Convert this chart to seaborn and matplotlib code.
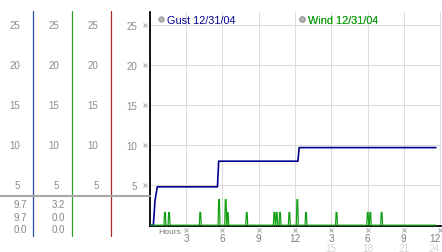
import matplotlib
matplotlib.use("Agg")
import matplotlib.pyplot as plt
from matplotlib.lines import Line2D
import seaborn as sns
import pandas as pd

# ---------------- data ----------------
gust_hours = [0.0, 0.30, 0.44, 0.63, 5.60, 5.70, 12.25, 12.35, 23.65]
gust_values = [0.0, 0.0, 3.1, 4.8, 4.8, 8.0, 8.0, 9.7, 9.7]
wind_spike_hours = [1.26, 1.60, 4.18, 5.73, 6.28, 6.45, 8.02, 10.30, 10.50,
                    10.77, 11.54, 12.20, 12.92, 15.44, 18.02, 18.23, 19.17]
wind_spike_values = [1.6, 1.6, 1.6, 3.2, 3.2, 1.6, 1.6, 1.6, 1.6,
                     1.6, 1.6, 3.2, 1.6, 1.6, 1.6, 1.6, 1.6]
wind_span = [0.0, 23.65]
y_ticks = [5, 10, 15, 20, 25]
x_ticks = [3, 6, 9, 12, 15, 18, 21, 24]
x_tick_labels = ["3", "6", "9", "12", "3", "6", "9", "12"]
x_day2_ticks = [15, 18, 21, 24]
x_day2_labels = ["15", "18", "21", "24"]
gust_stats = ["9.7", "9.7", "0.0"]
wind_stats = ["3.2", "0.0", "0.0"]
legend_labels = ["Gust 12/31/04", "Wind 12/31/04"]

GUST_C = "#00008c"
WIND_C = "#14a014"
LBL_C = "#8c8c8c"

# build wind line from spikes
wx, wy = [wind_span[0]], [0.0]
for t, v in zip(wind_spike_hours, wind_spike_values):
    wx += [t - 0.08, t - 0.03, t + 0.03, t + 0.08]
    wy += [0.0, v, v, 0.0]
wx.append(wind_span[1]); wy.append(0.0)
wind_df = pd.DataFrame({"hour": wx, "value": wy})
gust_df = pd.DataFrame({"hour": gust_hours, "value": gust_values})

sns.set_theme(style="white")
plt.rcParams["font.family"] = ["Liberation Sans", "DejaVu Sans"]

W, H = 442, 253
fig = plt.figure(figsize=(W / 100, H / 100), dpi=100)

ymin, ymax = -0.15, 26.7
px_per_unit = 8.0
zero_px = 226.2
bot_px = zero_px - ymin * px_per_unit
top_px = zero_px - ymax * px_per_unit
ax_left_px = 149.7
xmax = 24.08
ax_w_px = xmax * 12.1

bottom = (H - bot_px) / H
height = (bot_px - top_px) / H

ax = fig.add_axes([ax_left_px / W, bottom, ax_w_px / W, height])
axl = fig.add_axes([0, bottom, ax_left_px / W, height])

# ---------------- main chart ----------------
sns.lineplot(data=gust_df, x="hour", y="value", ax=ax, color=GUST_C, lw=1.2,
             estimator=None, sort=False, zorder=3)
sns.lineplot(data=wind_df, x="hour", y="value", ax=ax, color=WIND_C, lw=0.9,
             estimator=None, sort=False, zorder=4)

ax.set_xlim(0, xmax)
ax.set_ylim(ymin, ymax)
ax.set_xlabel("")
ax.set_ylabel("")
ax.set_yticks(y_ticks)
ax.set_yticklabels([str(v) for v in y_ticks])
ax.set_xticks(x_ticks)
ax.set_xticklabels(x_tick_labels)
ax.set_xticks(x_day2_ticks, minor=True)
ax.set_xticklabels(x_day2_labels, minor=True)
ax.xaxis.remove_overlapping_locs = False
ax.grid(True, which="major", color="#dcdcdc", lw=0.75)
ax.tick_params(axis="y", length=0, pad=9.0, labelsize=7, labelcolor=LBL_C)
ax.tick_params(axis="x", which="major", length=0, pad=4.6, labelsize=7.2,
               labelcolor="#7c7c7c")
ax.tick_params(axis="x", which="minor", length=0, pad=11.6, labelsize=7.2,
               labelcolor="#d6d6d6")
# the last labels sit flush with the right edge, as in the reference
ax.get_xticklabels()[-1].set_ha("right")
ax.get_xticklabels(minor=True)[-1].set_ha("right")
for s in ["top", "right"]:
    ax.spines[s].set_visible(False)
for s in ["left", "bottom"]:
    ax.spines[s].set_color("black")
    ax.spines[s].set_linewidth(1.3)
ax.set_facecolor("white")

# small tick glyphs
ax.plot([-5.2 / ax_w_px] * len(y_ticks), y_ticks, ls="none", marker="x",
        ms=2.2, mew=0.7, color="#a8a8a8", clip_on=False,
        transform=ax.get_yaxis_transform())
ax.plot(x_ticks, [-3.6 / (bot_px - top_px)] * len(x_ticks), ls="none",
        marker="x", ms=2.2, mew=0.7, color="#a8a8a8", clip_on=False,
        transform=ax.get_xaxis_transform())
ax.annotate("Hours", xy=(0.68, 0), xycoords=("data", "axes fraction"),
            xytext=(0, -3.8), textcoords="offset points", ha="left",
            va="center", fontsize=6.1, color="#7c7c7c", annotation_clip=False)

# legend
for lab, col, xf in zip(legend_labels, [GUST_C, WIND_C], [0.0233, 0.507]):
    h = Line2D([], [], ls="none", marker="o", ms=3.8, mfc="#b4b4b4",
               mec="#8a8a8a", mew=0.6)
    leg = ax.legend(handles=[h], labels=[lab], loc="center left",
                    bbox_to_anchor=(xf, 0.962), frameon=False, borderpad=0,
                    borderaxespad=0, handlelength=0.8, handletextpad=0.15,
                    fontsize=7.8, labelcolor=col)
    ax.add_artist(leg)

# ---------------- left scale panel ----------------
axl.set_xlim(0, ax_left_px)
axl.set_ylim(ymin, ymax)
axl.axis("off")

col_right = [20.0, 59.0, 98.5]
for xr in col_right:
    for v in y_ticks:
        axl.text(xr, v, str(v), ha="right", va="center", fontsize=7,
                 color=LBL_C)

top_val = (zero_px - 12) / px_per_unit
bot_val = (zero_px - 237) / px_per_unit
for xl, c in zip([33.3, 72.3, 111.0], ["#2a48a8", "#2fa02f", "#b02828"]):
    axl.plot([xl, xl], [bot_val, top_val], color=c, lw=0.9, clip_on=False)

sep_val = (zero_px - 197) / px_per_unit
axl.plot([0, ax_left_px], [sep_val, sep_val], color="#a8a8a8", lw=1.5,
         clip_on=False, zorder=5)

stat_vals = [(zero_px - p) / px_per_unit for p in (205, 218, 230.5)]
for xr, stats in zip([27.0, 65.0], [gust_stats, wind_stats]):
    for yv, s in zip(stat_vals, stats):
        axl.text(xr, yv, s, ha="right", va="center", fontsize=7,
                 color="#868686")

fig.savefig("out.png", dpi=100, facecolor="white")
